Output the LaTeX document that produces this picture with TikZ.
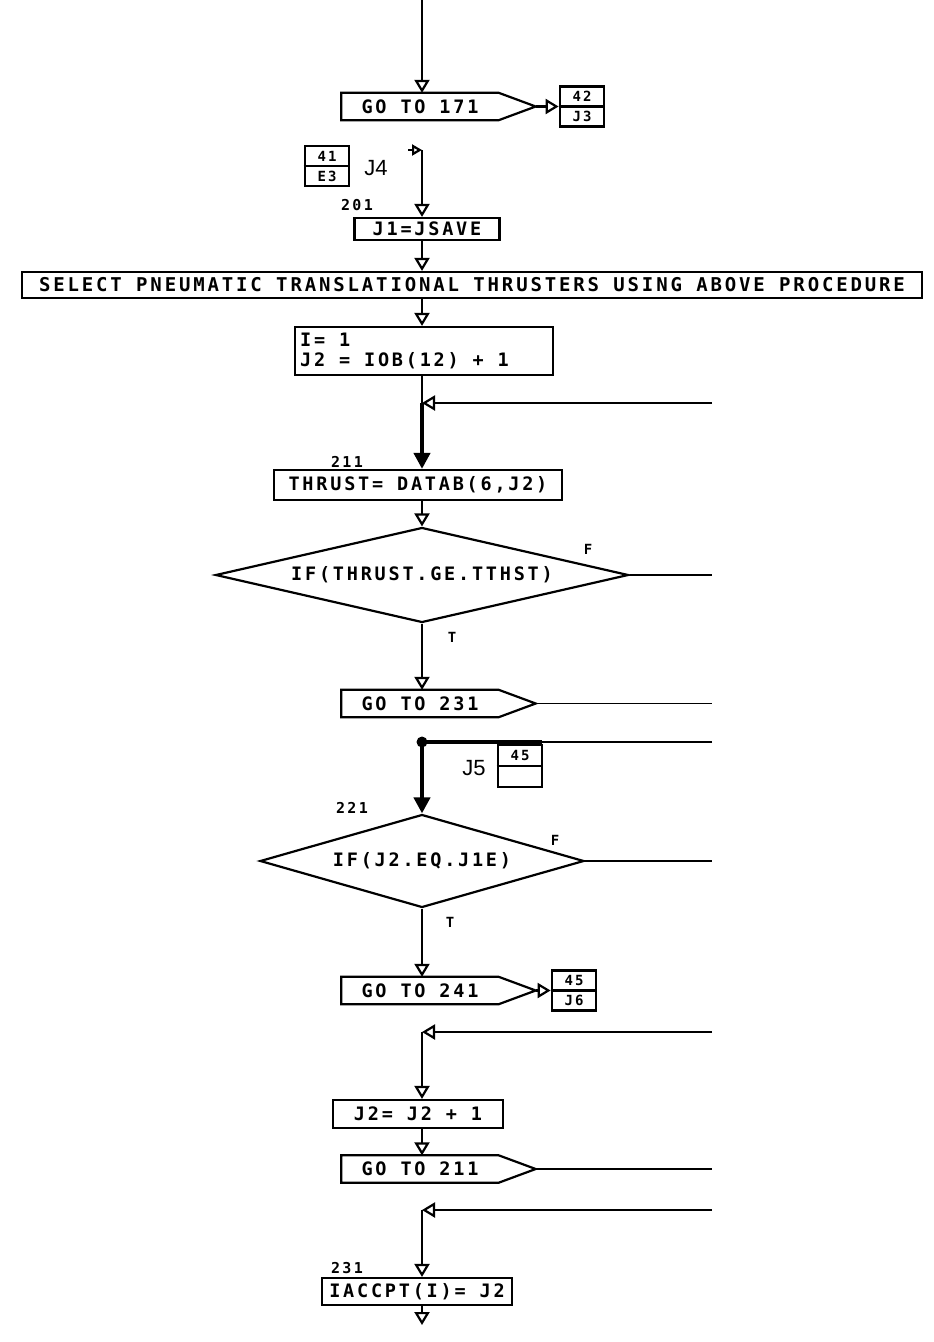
\documentclass[tikz,border=0pt]{standalone}
\usepackage{fontspec}
\usetikzlibrary{arrows.meta,shapes.geometric,calc}
\newfontfamily\plotfont{DejaVu Sans Mono}[LetterSpace=15]
\newfontfamily\labfont{Liberation Sans}
\newcommand\gotoshape[1]{%
  \coordinate (#1tip) at ($(#1.east)+(37,0)$);
  \draw[boxline] (#1.north west) -- (#1.north east) -- (#1tip) -- (#1.south east) -- (#1.south west) -- cycle;}
\tikzset{
  boxline/.style={line width=2.2pt, line join=miter},
  box/.style={draw, line width=2.2pt, inner sep=2pt, font={\fontsize{18.5}{21}\plotfont\bfseries}},
  gobox/.style={minimum width=157pt, minimum height=27pt, inner sep=0pt, font={\fontsize{18.5}{21}\plotfont\bfseries}},
  dia/.style={diamond, draw, line width=2.2pt, inner sep=1pt, aspect=4.3, font={\fontsize{18.5}{21}\plotfont\bfseries}},
  cbox/.style={draw, line width=2.8pt, minimum width=44pt, minimum height=40pt, inner sep=0pt},
  ctext/.style={inner sep=0pt, font={\fontsize{14}{15}\plotfont\bfseries}},
  ltext/.style={inner sep=0pt, anchor=west, font={\fontsize{18.5}{21}\plotfont\bfseries}},
  lab/.style={inner sep=0pt, font={\fontsize{15}{16}\plotfont\bfseries}},
  flab/.style={inner sep=0pt, font={\fontsize{14}{15}\plotfont\bfseries}},
  jlab/.style={inner sep=0pt, font={\fontsize{22}{23}\labfont}},
  flow/.style={line width=2.2pt, -{Triangle[open, length=13pt, width=15pt]}},
  flowsmall/.style={line width=2.2pt, -{Triangle[open, length=10pt, width=11pt]}},
  plainline/.style={line width=2.2pt},
  rline/.style={line width=1.6pt},
  lefttip/.style={-{Triangle[open, length=13pt, width=15pt, line width=2.2pt]}},
  thickline/.style={line width=4.5pt},
  filledtip/.style={-{Triangle[length=16pt, width=16pt]}}
}
\begin{document}
\begin{tikzpicture}[x=1pt,y=-1pt]
\fill[white] (0,0) rectangle (934,1342);
\useasboundingbox (0,0) rectangle (934,1342);

% top
\coordinate (top) at (422,0);
\node[gobox] (g171) at (420,106.5) {GO TO 171};
\gotoshape{g171}
\draw[flow] (top) -- (top |- g171.north);
\node[cbox] (c171) at (582,106.5) {};
\draw[boxline] (c171.west) -- (c171.east);
\node[ctext] (c171a) at ($(c171.center)+(0,-10)$) {42};
\node[ctext] (c171b) at ($(c171.center)+(0,10)$) {J3};
\draw[flow] (g171tip) -- (c171.west);

% J4 entry
\node[cbox] (c201) at (327,166) {};
\draw[boxline] (c201.west) -- (c201.east);
\node[ctext] (c201a) at ($(c201.center)+(0,-10)$) {41};
\node[ctext] (c201b) at ($(c201.center)+(0,10)$) {E3};
\node[jlab] (j4lab) at (376,168) {J4};
\coordinate (j4top) at (422,150);
\coordinate (j4in) at (408,150);
\draw[flowsmall] (j4in) -- (j4top);
\node[lab] (l201) at (357,205) {201};
\node[box, minimum width=145pt, minimum height=22pt] (jsave) at (427,229) {J1=JSAVE};
\draw[flow] (j4top) -- (j4top |- jsave.north);

% select
\node[box, minimum width=900pt, minimum height=26pt, font={\fontsize{19}{21}\plotfont\bfseries}] (sel) at (472,285) {SELECT PNEUMATIC TRANSLATIONAL THRUSTERS USING ABOVE PROCEDURE};
\draw[flow] (jsave.south -| top) -- (sel.north -| top);

% I box
\node[box, minimum width=258pt, minimum height=48pt] (ibox) at (424,351) {};
\node[ltext] (ibtext) at ($(ibox.west)+(6,1)$) {\begin{tabular}{@{}l@{}}I= 1\\[-1pt]J2 = IOB(12) + 1\end{tabular}};
\draw[flow] (sel.south -| top) -- (ibox.north -| top);
\coordinate (join1) at (422,403);
\coordinate (r1) at (712,403);
\draw[plainline] (ibox.south -| top) -- (join1);
\draw[rline, lefttip] (r1) -- (join1);

% 211
\node[lab] (l211) at (347,462) {211};
\node[box, minimum width=288pt, minimum height=30pt] (thrust) at (418,485) {THRUST= DATAB(6,J2)};
\draw[thickline, filledtip] (join1) -- (join1 |- thrust.north);

% diamond 1
\node[dia, minimum width=413pt, minimum height=95pt] (d1) at (422,575) {IF(THRUST.GE.TTHST)};
\draw[flow] (thrust.south -| top) -- (d1.north);
\node[flab] (f1) at (588,549) {F};
\coordinate (r2) at (712,575);
\draw[rline] (d1.east) -- (r2);
\node[flab] (t1) at (452,637) {T};
\node[gobox] (g231) at (420,703.5) {GO TO 231};
\gotoshape{g231}
\draw[flow] (d1.south) -- (d1.south |- g231.north);
\coordinate (r3) at (712,703.5);
\draw[rline] (g231tip) -- (r3);

% J5 entry
\coordinate (j5c) at (422,742);
\coordinate (r4) at (712,742);
\coordinate (j5m) at (542,742);
\draw[rline] (r4) -- (j5m);
\draw[thickline] (j5m) -- (j5c);
\fill (j5c) circle (5.5);
\node[cbox, minimum height=42pt] (c221) at (520,766) {};
\draw[boxline] (c221.west) -- (c221.east);
\node[ctext] (c221a) at ($(c221.center)+(0,-10.5)$) {45};
\node[jlab] (j5lab) at (474,768) {J5};
\node[lab] (l221) at (352,808) {221};

% diamond 2
\node[dia, minimum width=324pt, minimum height=93pt] (d2) at (422,861) {IF(J2.EQ.J1E)};
\draw[thickline, filledtip] (j5c) -- (d2.north);
\node[flab] (f2) at (555,840) {F};
\coordinate (r5) at (712,861);
\draw[rline] (d2.east) -- (r5);
\node[flab] (t2) at (450,922) {T};
\node[gobox] (g241) at (420,990.5) {GO TO 241};
\gotoshape{g241}
\draw[flow] (d2.south) -- (d2.south |- g241.north);
\node[cbox] (c241) at (574,990.5) {};
\draw[boxline] (c241.west) -- (c241.east);
\node[ctext] (c241a) at ($(c241.center)+(0,-10)$) {45};
\node[ctext] (c241b) at ($(c241.center)+(0,10)$) {J6};
\draw[flow] (g241tip) -- (c241.west);

% join 2
\coordinate (join2) at (422,1032);
\coordinate (r6) at (712,1032);
\draw[rline, lefttip] (r6) -- (join2);
\node[box, minimum width=170pt, minimum height=28pt] (j2box) at (418,1114) {J2= J2 + 1};
\draw[flow] (join2) -- (join2 |- j2box.north);
\node[gobox] (g211) at (420,1169) {GO TO 211};
\gotoshape{g211}
\draw[flow] (j2box.south -| top) -- (g211.north -| top);
\coordinate (r7) at (712,1169);
\draw[rline] (g211tip) -- (r7);

% join 3
\coordinate (join3) at (422,1210);
\coordinate (r8) at (712,1210);
\draw[rline, lefttip] (r8) -- (join3);
\node[lab] (l231) at (347,1268) {231};
\node[box, minimum width=190pt, minimum height=27pt] (iacc) at (417,1291.5) {IACCPT(I)= J2};
\draw[flow] (join3) -- (join3 |- iacc.north);
\coordinate (bot) at (422,1325);
\draw[flow] (iacc.south -| top) -- (bot);
\end{tikzpicture}
\end{document}
